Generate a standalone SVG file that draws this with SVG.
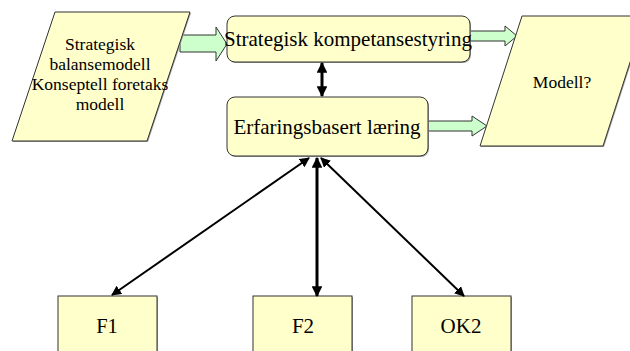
<svg xmlns="http://www.w3.org/2000/svg" width="630" height="351" viewBox="0 0 630 351">
  <style>
    .shape { fill: #FFFFCC; stroke: #333333; stroke-width: 1; }
    .shadow { fill: #a0a0a0; stroke: none; }
    .block { fill: #CCFFCC; stroke: #333333; stroke-width: 1; }
    .label { fill: #000000; text-anchor: middle; }
    .link { stroke: #000000; fill: none; }
  </style>
  <defs>
    <marker id="head" viewBox="0 0 10 10" refX="9" refY="5" markerWidth="5" markerHeight="5" orient="auto-start-reverse" markerUnits="strokeWidth">
      <path d="M0,0 L10,5 L0,10 Z" fill="#000000"/>
    </marker>
    <marker id="headThick" viewBox="0 0 10 10" refX="9" refY="5" markerWidth="3.6" markerHeight="3.6" orient="auto-start-reverse" markerUnits="strokeWidth">
      <path d="M0,0 L10,5 L0,10 Z" fill="#000000"/>
    </marker>
  </defs>

  <rect width="630" height="351" fill="#ffffff"/>

  <g font-family="Liberation Serif, serif">
  <!-- block arrows (drawn under the boxes) -->
  <g id="flows">
    <path class="block" d="M180,35 L216,35 L216,27 L227,44 L216,61 L216,52 L180,52 Z"/>
    <path class="block" d="M470,31 L505,31 L505,26 L517,36 L505,46 L505,41 L470,41 Z"/>
    <path class="block" d="M428,121 L472,121 L472,116 L487,126 L472,136 L472,131 L428,131 Z"/>
  </g>

  <g id="source">
    <polygon class="shadow" points="56,13 191,13 148,142 13,142"/>
    <polygon class="shape" points="55,12 190,12 147,141 12,141"/>
    <text class="label" font-size="17.5" x="100" y="50">Strategisk</text>
    <text class="label" font-size="17.5" x="100" y="70">balansemodell</text>
    <text class="label" font-size="17.5" x="100" y="90">Konseptell foretaks</text>
    <text class="label" font-size="17.5" x="100" y="110">modell</text>
  </g>

  <g id="kompetansestyring">
    <rect class="shadow" x="228" y="17" width="243" height="46" rx="8"/>
    <rect class="shape" x="227" y="16" width="243" height="46" rx="8"/>
    <text class="label" font-size="21" x="348" y="46">Strategisk kompetansestyring</text>
  </g>

  <g id="laering">
    <rect class="shadow" x="228" y="98" width="201" height="59" rx="8"/>
    <rect class="shape" x="227" y="97" width="201" height="59" rx="8"/>
    <text class="label" font-size="21" x="327" y="134">Erfaringsbasert læring</text>
  </g>

  <g id="modell">
    <polygon class="shadow" points="523,17 646,17 604,147 481,147"/>
    <polygon class="shape" points="522,16 645,16 603,146 480,146"/>
    <text class="label" font-size="17.5" x="562" y="88">Modell?</text>
  </g>

  <g id="f1">
    <rect class="shadow" x="59" y="297" width="99" height="60"/>
    <rect class="shape" x="58" y="296" width="99" height="60"/>
    <text class="label" font-size="20.5" x="107" y="333">F1</text>
  </g>

  <g id="f2">
    <rect class="shadow" x="254" y="297" width="99" height="60"/>
    <rect class="shape" x="253" y="296" width="99" height="60"/>
    <text class="label" font-size="21" x="303" y="333">F2</text>
  </g>

  <g id="ok2">
    <rect class="shadow" x="413" y="297" width="99" height="60"/>
    <rect class="shape" x="412" y="296" width="99" height="60"/>
    <text class="label" font-size="21" x="461" y="333">OK2</text>
  </g>
  </g>

  <!-- two-way links -->
  <g id="connectors">
    <line class="link" x1="322" y1="63" x2="322" y2="96" stroke-width="3" marker-start="url(#headThick)" marker-end="url(#headThick)"/>
    <line class="link" x1="112" y1="295" x2="309" y2="158" stroke-width="2" marker-start="url(#head)" marker-end="url(#head)"/>
    <line class="link" x1="317" y1="296" x2="317" y2="158" stroke-width="3" marker-start="url(#headThick)" marker-end="url(#headThick)"/>
    <line class="link" x1="464" y1="296" x2="321" y2="158" stroke-width="2" marker-start="url(#head)" marker-end="url(#head)"/>
  </g>
</svg>
